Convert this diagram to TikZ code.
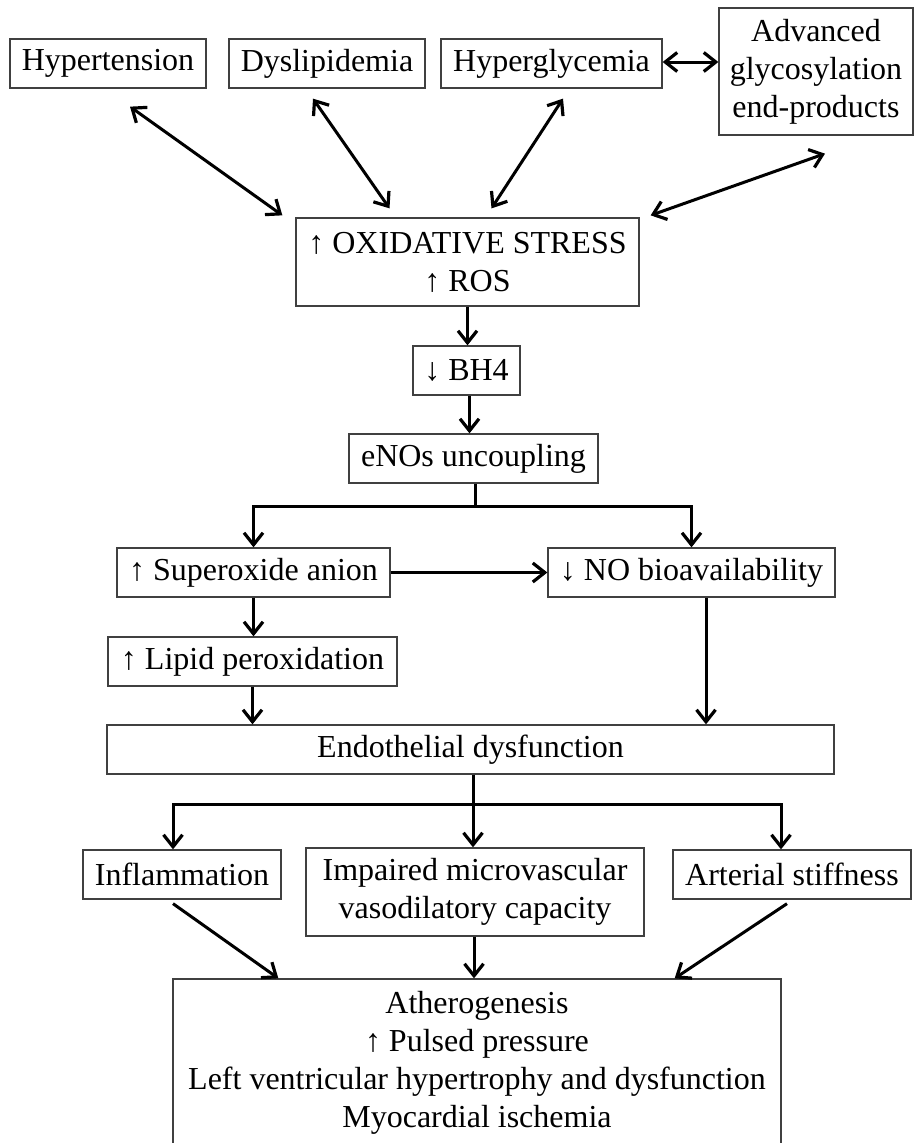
\documentclass[tikz,border=0pt]{standalone}
\usepackage{fontspec}
\setmainfont{Liberation Serif}
\usetikzlibrary{arrows.meta}
\begin{document}
\begin{tikzpicture}[x=1pt,y=-1pt,
  box/.style={draw=black!75,line width=1.3pt,inner sep=0pt,align=center,
    font=\fontsize{32}{38}\selectfont},
  tip/.tip={Straight Barb[length=12pt,width=19pt,line width=3.2pt]},
  arr/.style={line width=3pt,-tip},
  dbl/.style={line width=3pt,tip-tip},
  ln/.style={line width=3pt}]
\useasboundingbox (0,0) rectangle (915,1143);
% nodes
\node[box,minimum width=196,minimum height=49] (hyp) at (108,63.5) {Hypertension};
\node[box,minimum width=196,minimum height=49] (dys) at (327,63.5) {Dyslipidemia};
\node[box,minimum width=221,minimum height=49] (hg) at (551.5,63.5) {Hyperglycemia};
\node[box,minimum width=194,minimum height=127] (age) at (816,71.5) {Advanced\\glycosylation\\end-products};
\node[box,minimum width=343,minimum height=88] (ox) at (467.5,262) {↑ OXIDATIVE STRESS\\↑ ROS};
\node[box,minimum width=107,minimum height=49] (bh4) at (466.5,370.5) {↓ BH4};
\node[box,minimum width=249,minimum height=49] (enos) at (473.5,458.5) {eNOs uncoupling};
\node[box,minimum width=273,minimum height=49] (sup) at (253.5,572.5) {↑ Superoxide anion};
\node[box,minimum width=287,minimum height=49] (no) at (691.5,572.5) {↓ NO bioavailability};
\node[box,minimum width=289,minimum height=49] (lip) at (252.5,661.5) {↑ Lipid peroxidation};
\node[box,minimum width=727,minimum height=49] (endo) at (470.5,749.5) {Endothelial dysfunction};
\node[box,minimum width=198,minimum height=49] (infl) at (182,874.5) {Inflammation};
\node[box,minimum width=338,minimum height=88] (imp) at (475,892) {Impaired microvascular\\vasodilatory capacity};
\node[box,minimum width=238,minimum height=49] (art) at (792,874.5) {Arterial stiffness};
\node[box,minimum width=608,minimum height=168] (out) at (477,1063) {Atherogenesis\\↑ Pulsed pressure\\Left ventricular hypertrophy and dysfunction\\Myocardial ischemia};
% top connectors
\draw[dbl] ([shift={(22,18)}]hyp.south) -- ([shift={(-13,-2)}]ox.north west);
\draw[dbl] ([shift={(-14,10)}]dys.south) -- ([shift={(-78,-9)}]ox.north);
\draw[dbl] ([shift={(11.5,10)}]hg.south) -- ([shift={(24,-9)}]ox.north);
\draw[dbl] ([shift={(9,18)}]age.south) -- ([shift={(11,-2)}]ox.north east);
\draw[dbl] ([shift={(0,-1.5)}]hg.east) -- ([shift={(0,-1.5)}]hg.east -| age.west);
% chain
\draw[arr] (ox.south) -- (ox.south |- bh4.north);
\draw[arr] ([shift={(3,0)}]bh4.south) -- ([shift={(3,0)}]bh4.south |- enos.north);
\draw[ln] ([shift={(1.5,0)}]enos.south) -- ++(0,23) coordinate (j1);
\draw[arr] (j1) -| (sup.north);
\draw[arr] (j1) -| (no.north);
\draw[arr] (sup.east) -- (no.west);
\draw[arr] (sup.south) -- (sup.south |- lip.north);
\draw[arr] (lip.south) -- (lip.south |- endo.north);
\draw[arr] ([shift={(14.5,0)}]no.south) -- ([shift={(14.5,0)}]no.south |- endo.north);
\draw[ln] ([shift={(2.5,0)}]endo.south) -- ++(0,30) coordinate (j2);
\draw[arr] (j2) -| ([shift={(-9,0)}]infl.north);
\draw[arr] (j2) -- (j2 |- imp.north);
\draw[arr] (j2) -| ([shift={(-11,0)}]art.north);
% bottom connectors
\draw[arr] ([shift={(-9,4)}]infl.south) -- ([shift={(106,0)}]out.north west);
\draw[arr] ([shift={(-1,0)}]imp.south) -- ([shift={(-1,0)}]imp.south |- out.north);
\draw[arr] ([shift={(-5,4)}]art.south) -- ([shift={(-107,0)}]out.north east);
\end{tikzpicture}
\end{document}
